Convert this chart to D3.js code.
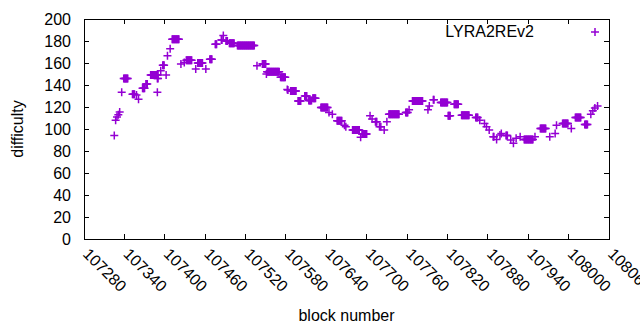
<!DOCTYPE html>
<html>
<head>
<meta charset="utf-8">
<script src="https://cdn.jsdelivr.net/npm/d3@7"></script>
<style>
  body { margin: 0; background: #fff; }
  text { font-family: "Liberation Sans", Arial, sans-serif; fill: #000; }
</style>
</head>
<body>
<svg id="chart" width="640" height="330"></svg>
<script>
// difficulty runs: first block, last block, difficulty
var runStart = [107325,107327,107329,107331,107333,107336,107339,107352,107358,107361,107367,107372,107379,107389,107389,107394,107397,107402,107404,107408,107411,107424,107429,107432,107446,107449,107461,107467,107475,107484,107487,107491,107496,107508,107537,107545,107551,107552,107572,107582,107583,107587,107598,107608,107614,107620,107632,107644,107649,107656,107667,107669,107679,107691,107693,107705,107708,107713,107719,107721,107726,107730,107733,107758,107763,107768,107791,107793,107799,107810,107821,107830,107841,107862,107868,107875,107878,107882,107888,107893,107898,107900,107907,107914,107918,107922,107928,107934,107950,107958,107972,107980,107982,107991,108004,108010,108024,108033,108036,108039,108043];
var runEnd   = [107325,107327,107329,107331,107333,107336,107345,107355,107358,107361,107370,107374,107390,107390,107389,107394,107399,107402,107404,107408,107421,107424,107429,107440,107446,107456,107461,107470,107477,107485,107487,107493,107503,107533,107537,107550,107551,107570,107579,107582,107583,107595,107602,107611,107618,107624,107642,107644,107649,107663,107667,107669,107689,107691,107700,107705,107708,107715,107719,107721,107726,107730,107748,107761,107763,107783,107791,107793,107800,107820,107824,107836,107852,107865,107868,107875,107878,107882,107889,107893,107898,107900,107909,107914,107918,107922,107928,107947,107950,107966,107972,107980,107982,107999,108004,108018,108028,108033,108036,108039,108043];
var runDiff  = [94,108,111,113,115.5,133.5,146,131.5,131,127,137,141,149,146,133.5,153,158,149,166.5,173,181.5,159,160.5,162.5,154.5,160,154.5,163.5,177,181,185,180,178,176,157.5,159,150,152,147,136,135.5,134.5,125.5,130,126,128,119.5,115,113.5,107.5,103.5,102,99,92.5,95.5,112,109,106.5,102,102,99,106.5,113.5,115,117.5,125.5,117.5,121,126.5,124,112,122.5,112.5,110.5,108,105,102,99,93,90.5,94.5,96,94,90,87,91.5,93,90.5,93,100.5,93,96,103.5,105,100.5,110.5,104,113.5,116.5,119,121];

var xTicks = d3.range(107280, 108061, 60);
var yTicks = d3.range(0, 201, 20);
var seriesName = "LYRA2REv2";

var margin = {top: 19, right: 31, bottom: 91, left: 84},
    width = 640 - margin.left - margin.right,
    height = 330 - margin.top - margin.bottom;

// one point per block
var data = [];
for (var k = 0; k < runStart.length; k++) {
    for (var b = runStart[k]; b <= runEnd[k]; b++) {
        data.push([b, runDiff[k]]);
    }
}

var svg = d3.select("#chart")
    .append("g")
    .attr("transform", "translate(" + margin.left + "," + margin.top + ")");

var x = d3.scaleLinear().domain([107280, 108060]).range([0, width]);
var y = d3.scaleLinear().domain([0, 200]).range([height, 0]);

var tl = 5;
// ticks (inward, mirrored)
var ticks = svg.append("g").attr("stroke", "#000").attr("stroke-width", 1).attr("shape-rendering", "crispEdges");
yTicks.forEach(function (v) {
    ticks.append("line").attr("x1", 0).attr("x2", tl).attr("y1", y(v)).attr("y2", y(v));
    ticks.append("line").attr("x1", width).attr("x2", width - tl).attr("y1", y(v)).attr("y2", y(v));
});
xTicks.forEach(function (v) {
    ticks.append("line").attr("x1", x(v)).attr("x2", x(v)).attr("y1", height).attr("y2", height - tl);
    ticks.append("line").attr("x1", x(v)).attr("x2", x(v)).attr("y1", 0).attr("y2", tl);
});

svg.append("rect")
    .attr("width", width).attr("height", height)
    .attr("fill", "none").attr("stroke", "#000").attr("stroke-width", 1)
    .attr("shape-rendering", "crispEdges");

// tick labels
svg.append("g").selectAll("text").data(yTicks).enter().append("text")
    .attr("x", -13).attr("y", function (d) { return y(d); })
    .attr("dy", "0.35em").attr("text-anchor", "end")
    .style("font-size", "16px")
    .text(function (d) { return d; });

svg.append("g").selectAll("text").data(xTicks).enter().append("text")
    .attr("transform", function (d) { return "translate(" + (x(d) + 2) + "," + (height + 12) + ") rotate(45)"; })
    .attr("dy", "0.35em").attr("text-anchor", "start")
    .style("font-size", "16px")
    .text(function (d) { return d; });

// axis titles
svg.append("text")
    .attr("transform", "translate(" + (17 - margin.left) + "," + (height / 2) + ") rotate(-90)")
    .attr("dy", "0.35em").attr("text-anchor", "middle")
    .style("font-size", "16px")
    .text("difficulty");

svg.append("text")
    .attr("x", width / 2).attr("y", 302)
    .attr("text-anchor", "middle")
    .style("font-size", "16px")
    .text("block number");

// points
var plus = "M-4,0H4M0,-4V4";
svg.append("g").selectAll("path").data(data).enter().append("path")
    .attr("transform", function (d) { return "translate(" + x(d[0]) + "," + y(d[1]) + ")"; })
    .attr("d", plus)
    .attr("stroke", "#9400d3").attr("stroke-width", 1.5).attr("fill", "none");

// legend
svg.append("text")
    .attr("x", 534 - margin.left).attr("y", 31 - margin.top)
    .attr("dy", "0.35em").attr("text-anchor", "end")
    .style("font-size", "16px")
    .text(seriesName);
svg.append("path")
    .attr("transform", "translate(" + (595 - margin.left) + "," + (32 - margin.top) + ")")
    .attr("d", plus)
    .attr("stroke", "#9400d3").attr("stroke-width", 1.5).attr("fill", "none");
</script>
</body>
</html>
